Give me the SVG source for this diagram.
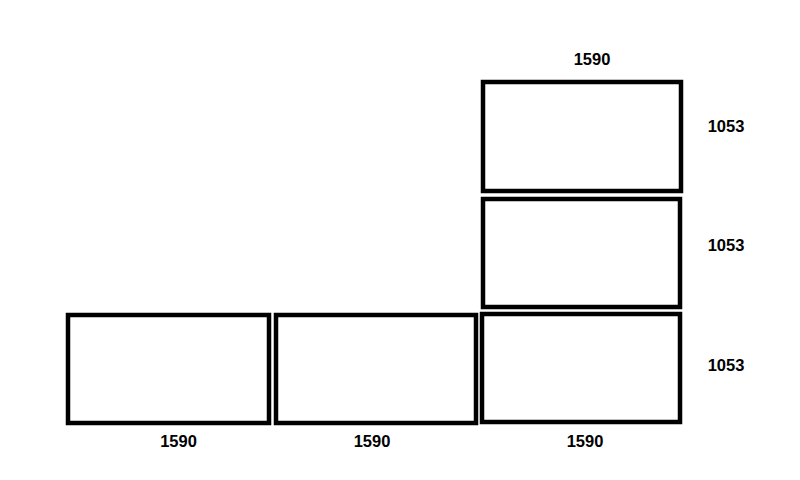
<svg xmlns="http://www.w3.org/2000/svg" width="800" height="480" viewBox="0 0 800 480">
<style>
.box{fill:#fff;stroke:#000;stroke-width:4.5}
.lbl{font-family:"Liberation Sans",Arial,sans-serif;font-weight:bold;font-size:16.5px;fill:#000;text-anchor:middle}
</style>
<rect width="800" height="480" fill="#fff"/>
<g id="panel-bottom-1"><rect class="box" x="68" y="315" width="201" height="108"/><text class="lbl" x="178.5" y="447">1590</text></g>
<g id="panel-bottom-2"><rect class="box" x="276" y="315" width="200" height="108"/><text class="lbl" x="372" y="447">1590</text></g>
<g id="panel-bottom-3"><rect class="box" x="482" y="314" width="198" height="108"/><text class="lbl" x="585" y="447">1590</text><text class="lbl" x="726" y="371">1053</text></g>
<g id="panel-middle"><rect class="box" x="483" y="199" width="197" height="108"/><text class="lbl" x="726" y="251">1053</text></g>
<g id="panel-top"><rect class="box" x="483" y="82" width="198" height="109"/><text class="lbl" x="592" y="65">1590</text><text class="lbl" x="726" y="132">1053</text></g>
<g id="connectors"/>
</svg>
